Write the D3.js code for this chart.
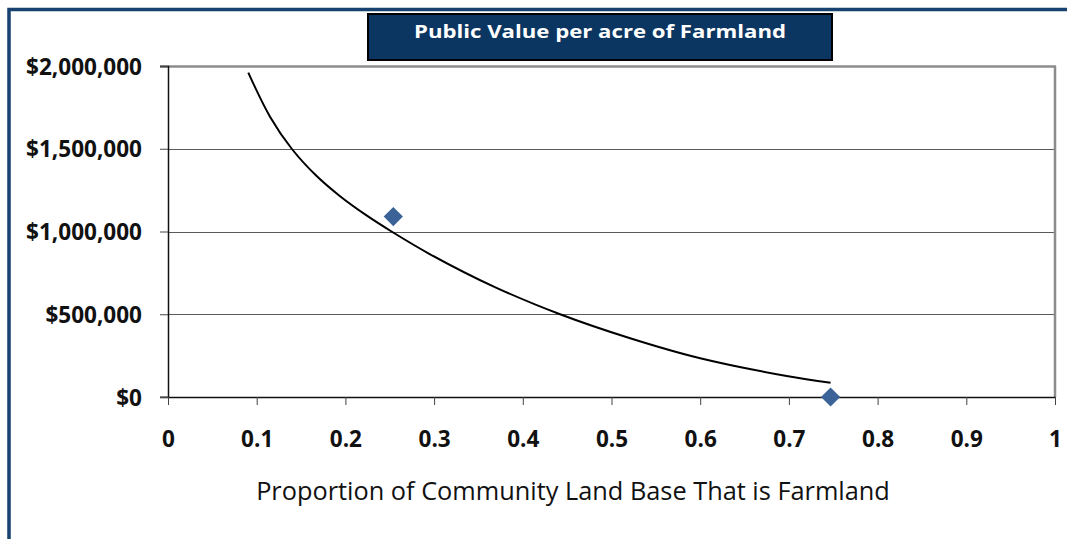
<!DOCTYPE html>
<html>
<head>
<meta charset="utf-8">
<script src="https://cdn.jsdelivr.net/npm/d3@7"></script>
<style>
  body { margin: 0; background: #fff; }
  svg { display: block; }
</style>
</head>
<body>
<div id="chart"></div>
<script>
// Chart data
const xTicks = [0, 0.1, 0.2, 0.3, 0.4, 0.5, 0.6, 0.7, 0.8, 0.9, 1];
const yTicks = [0, 500000, 1000000, 1500000, 2000000];

// curve (proportion, public value)
const curveX = [0.0905, 0.115, 0.1395, 0.167, 0.194, 0.223, 0.252, 0.295, 0.3685, 0.442, 0.521, 0.6, 0.6975, 0.747];
const curveY = [1960000, 1694000, 1500000, 1338000, 1213000, 1100000, 1000000, 864000, 664000, 500000, 355000, 234000, 127000, 86000];

// observed points
const pointX = [0.254, 0.747];
const pointY = [1090000, 0];

const width = 1067, height = 539;
const margin = {top: 66, left: 168};
const plotW = 1055 - margin.left, plotH = 397 - margin.top;
const FONT = "'Open Sans', sans-serif";

let svg = d3.select("#chart")
    .append("svg")
    .attr("width", width)
    .attr("height", height);

// shrink or grow a text's font so it spans the given width
function fitFont(sel, target, base) {
    sel.style("font-size", base + "px");
    let w = sel.node().getComputedTextLength();
    return base * target / w;
}

// outer frame
svg.append("rect")
    .attr("x", 9).attr("y", 9.5)
    .attr("width", 1100).attr("height", 600)
    .attr("fill", "none")
    .attr("stroke", "#17416e")
    .attr("stroke-width", 3.5);

let g = svg.append("g")
    .attr("transform", `translate(${margin.left}, ${margin.top})`);

let x = d3.scaleLinear().domain([0, 1]).range([0, plotW]);
let y = d3.scaleLinear().domain([0, 2000000]).range([plotH, 0]);

// gridlines
g.append("g")
    .selectAll("line")
    .data(yTicks.filter(d => d > 0 && d < 2000000))
    .enter()
    .append("line")
    .attr("x1", 0).attr("x2", plotW)
    .attr("y1", d => Math.round(y(d)) + 0.5)
    .attr("y2", d => Math.round(y(d)) + 0.5)
    .attr("stroke", "#5a5a5a")
    .attr("stroke-width", 1);

// plot area top and right borders
g.append("line")
    .attr("x1", -8).attr("x2", plotW + 1)
    .attr("y1", 0.5).attr("y2", 0.5)
    .attr("stroke", "#8c8c8c").attr("stroke-width", 2.5);
g.append("line")
    .attr("x1", plotW).attr("x2", plotW)
    .attr("y1", 0).attr("y2", plotH)
    .attr("stroke", "#8c8c8c").attr("stroke-width", 2.5);

// y axis
let yAxis = g.append("g")
    .call(d3.axisLeft(y).tickValues(yTicks).tickSize(8).tickPadding(18)
        .tickFormat(d => "$" + d3.format(",")(d)));
yAxis.select(".domain").attr("stroke", "#111").attr("stroke-width", 1.5);
yAxis.selectAll(".tick line").attr("stroke", "#444");
let yText = yAxis.selectAll("text")
    .style("font-family", FONT)
    .style("font-weight", "bold")
    .attr("fill", "#111");
let tickSize = fitFont(yAxis.select(".tick:last-of-type text"), 116, 20);
yText.style("font-size", tickSize + "px").attr("dy", "0.36em");

// x axis
let xAxis = g.append("g")
    .attr("transform", `translate(0, ${plotH})`)
    .call(d3.axisBottom(x).tickValues(xTicks).tickSize(8).tickSizeOuter(0)
        .tickFormat(d => String(d)));
xAxis.select(".domain").attr("stroke", "#111").attr("stroke-width", 1.5);
xAxis.selectAll(".tick line").attr("stroke", "#444");
xAxis.selectAll("text")
    .style("font-family", FONT)
    .style("font-weight", "bold")
    .style("font-size", tickSize + "px")
    .attr("fill", "#111")
    .attr("y", 50)
    .attr("dy", 0);
xAxis.append("line")
    .attr("x1", -8).attr("x2", 0).attr("y1", 0).attr("y2", 0)
    .attr("stroke", "#444");

// curve
let line = d3.line()
    .x((d, i) => x(curveX[i]))
    .y((d, i) => y(curveY[i]))
    .curve(d3.curveCatmullRom.alpha(0.5));

g.append("path")
    .datum(curveY)
    .attr("d", line)
    .attr("fill", "none")
    .attr("stroke", "#000")
    .attr("stroke-width", 2);

// diamond markers
g.selectAll(".pt")
    .data(pointX)
    .enter()
    .append("path")
    .attr("class", "pt")
    .attr("d", d3.symbol().type(d3.symbolSquare).size(185))
    .attr("transform", (d, i) => `translate(${x(d)}, ${y(pointY[i])}) rotate(45)`)
    .attr("fill", "#3b6398");

// title box
svg.append("rect")
    .attr("x", 368).attr("y", 14)
    .attr("width", 464).attr("height", 46)
    .attr("fill", "#0b3661")
    .attr("stroke", "#000")
    .attr("stroke-width", 2);
svg.append("text")
    .attr("x", 600).attr("y", 38)
    .style("text-anchor", "middle")
    .style("font-family", FONT)
    .style("font-weight", "bold")
    .style("font-size", "18.5px")
    .attr("textLength", 372)
    .attr("lengthAdjust", "spacingAndGlyphs")
    .attr("fill", "#fff")
    .text("Public Value per acre of Farmland");

// x axis title
let xTitle = svg.append("text")
    .attr("x", 573).attr("y", 500)
    .style("text-anchor", "middle")
    .style("font-family", FONT)
    .attr("fill", "#111")
    .text("Proportion of Community Land Base That is Farmland");
xTitle.style("font-size", fitFont(xTitle, 634, 24) + "px");
</script>
</body>
</html>
